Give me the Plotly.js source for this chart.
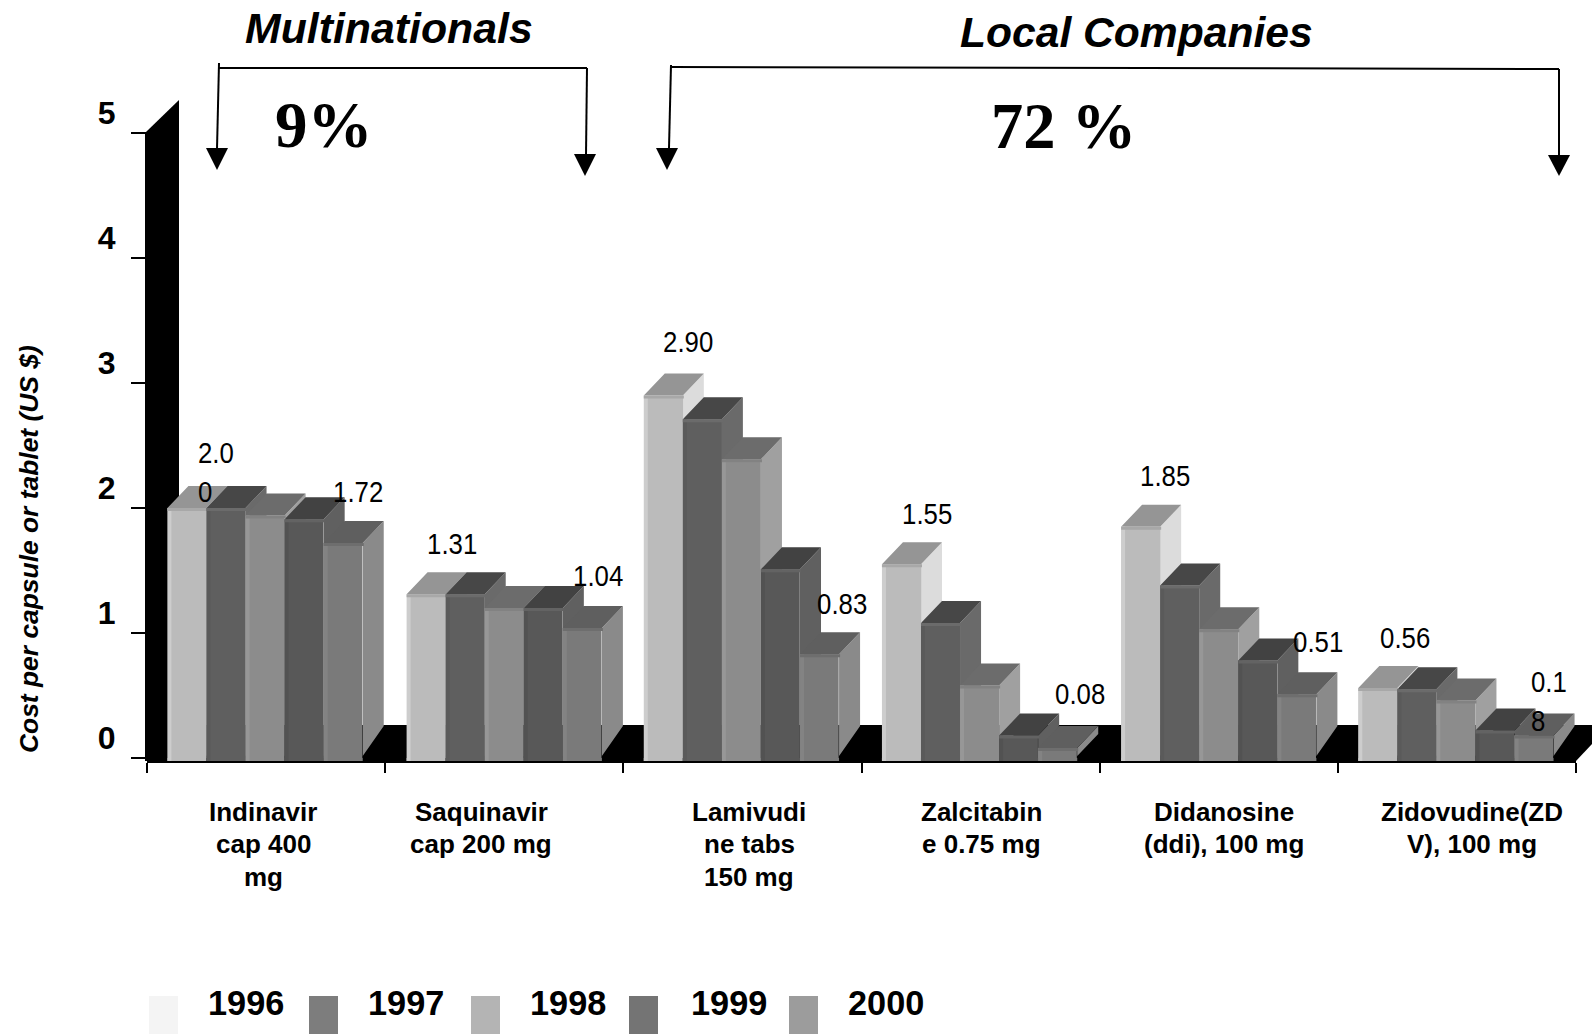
<!DOCTYPE html>
<html>
<head>
<meta charset="utf-8">
<script src="https://cdn.plot.ly/plotly-3.0.1.min.js"></script>
<style>html,body{margin:0;padding:0;background:#fff}#chart{width:1592px;height:1034px}</style>
</head>
<body>
<div id="chart"></div>
<script>
// ---- data ----
var categories = ['Indinavir<br>cap 400<br>mg','Saquinavir<br>cap 200 mg','Lamivudi<br>ne tabs<br>150 mg','Zalcitabin<br>e 0.75 mg','Didanosine<br>(ddi), 100 mg','Zidovudine(ZD<br>V), 100 mg'];
var years = ['1996','1997','1998','1999','2000'];
var s1996 = [2.00,1.31,2.90,1.55,1.85,0.56];
var s1997 = [2.00,1.31,2.71,1.08,1.38,0.55];
var s1998 = [1.94,1.20,2.39,0.58,1.03,0.46];
var s1999 = [1.91,1.20,1.51,0.18,0.78,0.22];
var s2000 = [1.72,1.04,0.83,0.08,0.51,0.18];
var firstLabels = ['2.0<br>0','1.31','2.90','1.55','1.85','0.56'];
var lastLabels  = ['1.72','1.04','0.83','0.08','0.51','0.1<br>8'];
var yTicks = [0,1,2,3,4,5];

// ---- styling ----
var frontColors = ['#bbbbbb','#5f5f5f','#8c8c8c','#585858','#7a7a7a'];
var topColors   = ['#959595','#474747','#6c6c6c','#424242','#5f5f5f'];
var sideColors  = ['#dcdcdc','#6a6a6a','#a0a0a0','#606060','#8a8a8a'];
var leftColors  = ['#cdcdcd','#5a5a5a','#979797','#525252','#838383'];
var capColors   = ['#a8a8a8','#6b6b6b','#828282','#636363','#6e6e6e'];
var legendColors= ['#f4f4f4','#7d7d7d','#b4b4b4','#747474','#9c9c9c'];
var legendSwatchX = [149,309,471,629,789];
var legendTextX = [246,406,568,729,886];
var firstLabelX = [197,452,688,927,1165,1405];
var firstLabelY = [472,543,341,513,475,637];
var lastLabelX  = [358,598,842,1080,1318,1530];
var lastLabelY  = [491,575,603,693,641,701];
var catLabelX = [263,481,749,981,1224,1472];
var groupShiftPx = [-1,0,-1,-1,0,-1];

var L=147,R=1576,T=133,B=761;
var yMin=-0.024;
var pxPerCat=(R-L)/6, pxPerVal=(B-T)/(5-yMin);
var depthX=21/pxPerCat, depthY=22/pxPerVal;
var floorBack=(B-726)/pxPerVal+yMin, frontFoot=yMin+5/pxPerVal;
var bargap=0.18, barW=(1-bargap)/5;
var series=[s1996,s1997,s1998,s1999,s2000];
var groupCenters=categories.map(function(c,i){return i+0.5+groupShiftPx[i]/pxPerCat;});

function px(x){return (x-L)/(R-L);}
function py(y){return (B-y)/(B-T);}
function poly(list,color,ax){
  var xs=[],ys=[];
  list.forEach(function(p){
    p.forEach(function(q){xs.push(q[0]);ys.push(q[1]);});
    xs.push(p[0][0]);ys.push(p[0][1]);
    xs.push(null);ys.push(null);
  });
  return {type:'scatter',mode:'lines',x:xs,y:ys,fill:'toself',fillcolor:color,
    line:{width:0,color:color},hoverinfo:'skip',showlegend:false,cliponaxis:false,
    xaxis:ax?'x2':'x',yaxis:ax?'y2':'y'};
}
var traces=[];
// side and top faces, left to right
series.forEach(function(vals,s){
  var sides=[],tops=[];
  vals.forEach(function(v,g){
    var x0=groupCenters[g]+(s-2.5)*barW, x1=x0+barW;
    var bb=Math.min(floorBack,v+depthY-8/pxPerVal);
    sides.push([[x1,v],[x1+depthX,v+depthY],[x1+depthX,bb],[x1,Math.min(frontFoot,v)]]);
    tops.push([[x0,v],[x0+depthX,v+depthY],[x1+depthX,v+depthY],[x1,v]]);
  });
  traces.push(poly(sides,sideColors[s]));
  traces.push(poly(tops,topColors[s]));
});
// front faces (real bars, drawn on an overlay so they cover the faces behind)
series.forEach(function(vals,s){
  traces.push({type:'bar',name:years[s],x:groupCenters,y:vals,
    marker:{color:frontColors[s],line:{width:0}},xaxis:'x2',yaxis:'y2',showlegend:false,
    hovertemplate:years[s]+': %{y:.2f}<extra></extra>'});
});
// bevels
series.forEach(function(vals,s){
  var left=[],cap=[],foot=[];
  vals.forEach(function(v,g){
    var x0=groupCenters[g]+(s-2.5)*barW, x1=x0+barW, e=4/pxPerCat, h=3/pxPerVal;
    foot.push([[x0,yMin],[x0,0],[x1,0],[x1,yMin]]);
    left.push([[x0,yMin],[x0,v],[x0+e,v],[x0+e,yMin]]);
    cap.push([[x0,v-h],[x0,v],[x1+1/pxPerCat,v],[x1+1/pxPerCat,v-h]]);
  });
  traces.push(poly(foot,frontColors[s],true));
  traces.push(poly(left,leftColors[s],true));
  traces.push(poly(cap,capColors[s],true));
});

// ---- annotations ----
var ann=[];
function note(x,y,text,font,opts){
  var a={xref:'paper',yref:'paper',x:px(x),y:py(y),text:text,font:font,showarrow:false,xanchor:'center',yanchor:'middle',borderpad:0};
  for(var k in (opts||{}))a[k]=opts[k];
  ann.push(a);
}
var sansB='"Liberation Sans",Arial,sans-serif', serif='"Liberation Serif","Times New Roman",serif';
note(389,28,'<b><i>Multinationals</i></b>',{family:sansB,size:42.8,color:'#000'});
note(1136,32,'<b><i>Local Companies</i></b>',{family:sansB,size:42.6,color:'#000'});
note(324,125,'<b>9%</b>',{family:serif,size:65,color:'#000'});
note(1063,127,'<b>72 %</b>',{family:serif,size:64.5,color:'#000'});
note(29,549,'<b><i>Cost per capsule or tablet (US $)</i></b>',{family:sansB,size:26.4,color:'#000'},{textangle:-90});
categories.forEach(function(c,i){
  c.split('<br>').forEach(function(line,j){
    note(catLabelX[i],811.5+j*32.5,'<b>'+line+'</b>',{family:sansB,size:26,color:'#000'});
  });
});
var lblFont={family:'"Liberation Sans",sans-serif',size:30,color:'#000'};
firstLabels.concat(lastLabels).forEach(function(t,i){
  var x=firstLabelX.concat(lastLabelX)[i], y=firstLabelY.concat(lastLabelY)[i];
  if(t.indexOf('<br>')>=0) note(x,y,t,lblFont,{xanchor:'left',align:'left'});
  else note(x,y,t,lblFont);
});
years.forEach(function(y,i){
  note(legendTextX[i],1003,'<b>'+y+'</b>',{family:sansB,size:34.3,color:'#000'});
});

// ---- shapes: wall, floor, legend swatches, brackets, arrowheads ----
var shapes=[];
function pathOf(pts){return pts.map(function(p,i){return (i?'L':'M')+px(p[0])+','+py(p[1]);}).join(' ')+' Z';}
function blob(pts){shapes.push({type:'path',xref:'paper',yref:'paper',layer:'below',fillcolor:'#000',line:{width:0},path:pathOf(pts)});}
blob([[145,761],[145,133],[147,131],[179,100],[179,761]]);
blob([[147,761],[179,725],[1610,725],[1576,761]]);
function seg(x0,y0,x1,y1){shapes.push({type:'line',xref:'paper',yref:'paper',x0:px(x0),y0:py(y0),x1:px(x1),y1:py(y1),line:{color:'#000',width:2}});}
function head(tx,ty,hw,by){
  shapes.push({type:'path',xref:'paper',yref:'paper',fillcolor:'#000',line:{width:0},
    path:pathOf([[tx-hw,by],[tx+hw,by],[tx,ty]])});
}
seg(219,63,217,149);seg(219,68,587,68);seg(587,68,586,155);
seg(671,65,669,148);seg(671,67,1559,69);seg(1559,69,1559,155);
head(217,170,11,148);head(585,176,11,154);head(667,170,11,148);head(1559,176,11,155);
legendColors.forEach(function(c,i){
  shapes.push({type:'rect',xref:'paper',yref:'paper',x0:px(legendSwatchX[i]),x1:px(legendSwatchX[i]+29),y0:py(996),y1:py(1034),fillcolor:c,line:{width:0}});
});

var layout={
  width:1592,height:1034,autosize:false,
  margin:{l:L,r:1592-R,t:T,b:1034-B,pad:0},
  paper_bgcolor:'#fff',plot_bgcolor:'rgba(0,0,0,0)',
  showlegend:false,barmode:'group',bargap:bargap,bargroupgap:0,
  xaxis:{range:[0,6],tickmode:'array',tickvals:[0,1,2,3,4,5,6],ticktext:['','','','','','',''],
    ticks:'outside',ticklen:10,tickwidth:2,tickcolor:'#000',showline:true,linecolor:'#000',linewidth:2,showgrid:false,zeroline:false},
  yaxis:{range:[yMin,5],tickmode:'array',tickvals:yTicks,ticktext:yTicks.map(String),
    ticks:'outside',ticklen:15,tickwidth:2,tickcolor:'#000',showline:false,showgrid:false,zeroline:false,
    tickfont:{family:sansB,size:32,color:'#000',weight:'bold'},ticklabelstandoff:9,ticklabelshift:-20},
  xaxis2:{range:[0,6],overlaying:'x',visible:false},
  yaxis2:{range:[yMin,5],overlaying:'y',visible:false},
  annotations:ann,shapes:shapes
};
Plotly.newPlot('chart',traces,layout,{displayModeBar:false,responsive:false}).then(function(){
  // value labels are set in a condensed face in the reference: squeeze them horizontally
  var squeeze=0.86;
  document.querySelectorAll('#chart .annotation-text').forEach(function(el){
    if(el.style.fontSize!=='30px')return;
    var b=el.getBBox();
    var multi=el.querySelectorAll('tspan').length>1;
    var ox=multi?b.x:b.x+b.width/2;
    el.setAttribute('transform','translate('+ox+',0) scale('+squeeze+',1) translate('+(-ox)+',0)');
  });
});
</script>
</body>
</html>
